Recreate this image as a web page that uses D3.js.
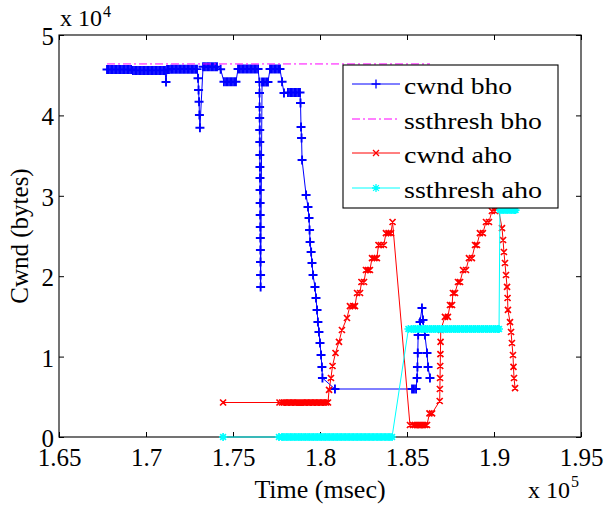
<!DOCTYPE html>
<html>
<head>
<meta charset="utf-8">
<script src="https://cdn.jsdelivr.net/npm/d3@7/dist/d3.min.js"></script>
<style>
  body { margin: 0; background: #fff; }
  svg { display: block; }
  text { font-family: "Liberation Serif", "DejaVu Serif", serif; fill: #000; }
</style>
</head>
<body>
<svg id="chart" width="604" height="506" font-family="Liberation Serif, DejaVu Serif, serif"></svg>
<script>
// ---- axis ticks (time in msec, window in bytes) ----
const xTicks = [165000, 170000, 175000, 180000, 185000, 190000, 195000];
const xTickLabels = ["1.65", "1.7", "1.75", "1.8", "1.85", "1.9", "1.95"];
const yTicks = [0, 10000, 20000, 30000, 40000, 50000];
const yTickLabels = ["0", "1", "2", "3", "4", "5"];
const seriesNames = ["cwnd bho", "ssthresh bho", "cwnd aho", "ssthresh aho"];

// ---- cwnd before handover: [time msec, bytes] ----
const cwndBho = [
  [167760,45700],[167870,45700],[167990,45700],[168100,45700],[168220,45700],[168330,45700],
  [168450,45700],[168560,45700],[168680,45700],[168790,45700],[168910,45700],[169020,45700],
  [169140,45700],[169250,45600],[169370,45600],[169480,45600],[169600,45600],[169710,45600],
  [169830,45600],[169940,45600],[170060,45600],[170170,45600],[170290,45600],[170400,45600],
  [170520,45600],[170630,45600],[170750,45600],[170860,45600],[170980,45600],[171090,45600],
  [171150,44150],[171210,45700],[171320,45700],[171440,45750],[171550,45750],[171670,45750],
  [171780,45750],[171900,45750],[172010,45750],[172130,45750],[172240,45750],[172360,45750],
  [172470,45750],[172590,45750],[172700,45750],[172820,45750],[172930,45750],
  [172990,44620],[173020,43160],[173050,41700],[173070,40050],[173100,38470],
  [173280,46060],[173390,46060],[173510,46060],[173620,46060],[173740,46060],[173850,46060],
  [173970,46060],[174080,46060],[174290,45740],
  [174480,44190],[174600,44190],[174710,44190],[174830,44190],[174940,44190],[175060,44190],[175170,44190],
  [175290,45770],[175400,45770],[175520,45770],[175630,45770],[175750,45770],[175860,45770],
  [175980,45770],[176090,45770],[176210,45770],[176320,45770],[176440,45770],
  [176520,44160],[176524,42790],[176528,41050],[176532,39680],[176536,38190],[176540,36690],
  [176544,35080],[176548,33580],[176552,32210],[176556,30720],[176560,29110],[176564,27610],
  [176568,26120],[176572,24750],[176576,23260],[176580,21770],[176584,20150],[176588,18660],
  [176670,44160],[176780,44160],[176900,44160],[177010,44160],
  [177130,45770],[177240,45770],[177360,45770],[177470,45770],[177590,45770],[177700,45770],
  [177820,44190],[177930,42790],
  [178160,42850],[178280,42850],[178390,42850],[178510,42850],[178620,42850],[178740,42850],[178850,42850],
  [178880,41540],[178910,38560],[178940,37190],[178970,34450],[179200,30100],[179310,28610],
  [179370,27240],[179400,25750],[179430,24250],[179490,23010],[179540,21640],[179600,20150],
  [179710,18660],[179770,17290],[179830,15800],[179880,14300],[179940,13060],[180000,11690],
  [180060,10200],[180110,8710],[180140,7340],[180860,5970],
  [185290,5970],[185400,5970],[185520,5970],
  [185580,7340],[185600,8710],[185620,10450],[185640,12690],[185750,14300],[185860,16050],
  [185920,14550],[186030,12690],[186150,10450],[186210,8710],[186320,7340]
];

// ---- ssthresh before handover ----
const ssthreshBho = [[167760,46400],[186320,46400]];

// ---- cwnd after handover ----
const cwndAho = [
  [174430,4290],
  [177670,4290],[177820,4290],[177930,4290],[178050,4290],[178160,4290],[178280,4290],
  [178390,4290],[178510,4290],[178620,4290],[178740,4290],[178850,4290],[178960,4290],
  [179080,4290],[179190,4290],[179310,4290],[179420,4290],[179540,4290],[179650,4290],
  [179770,4290],[179880,4290],[180000,4290],[180110,4290],[180230,4290],[180340,4290],[180460,4290],
  [180520,5850],[180630,7340],[180720,8830],[180890,10450],[181090,11820],[181260,13310],
  [181550,14800],[181720,16290],[181900,16290],[182010,16290],[182130,17910],[182300,17910],
  [182380,19280],[182530,19280],[182640,20770],[182760,20770],[182870,20770],
  [182990,22260],[183130,22260],[183270,22260],[183360,23880],[183500,23880],[183670,23880],
  [183790,25370],[183940,25370],[184080,25370],[184170,26740],
  [185170,1490],[185340,1490],[185460,1490],[185570,1490],[185690,1490],[185800,1490],
  [185920,1490],[186030,1490],[186150,1490],[186290,2950],[186440,2950],
  [186880,4480],[186890,5970],[186900,7340],[186910,8830],[186920,10320],[186930,11820],[186940,13310],
  [187180,14930],[187350,14930],[187470,16420],[187590,16420],[187640,17910],[187760,17910],
  [187930,19280],[188050,19280],[188220,20770],[188390,20770],[188560,22260],[188730,22260],
  [188910,23880],[189020,23880],[189190,25370],[189360,25370],[189540,26740],[189710,26740],
  [189880,28110],[190060,28110],[190230,28610],
  [190460,25990],[190520,24500],[190570,23010],[190630,21640],[190690,20150],[190750,18660],
  [190780,17290],[190800,15800],[190920,14300],[190980,13060],[191030,11690],[191090,10200],
  [191120,8710],[191150,7340],[191210,6090]
];

// ---- ssthresh after handover ----
const ssthreshAho = [
  [174430,0],[177640,0],
  [177820,0],[177930,0],[178050,0],[178160,0],[178280,0],[178390,0],[178510,0],[178620,0],
  [178740,0],[178850,0],[178960,0],[179080,0],[179190,0],[179310,0],[179420,0],[179540,0],
  [179650,0],[179770,0],[179880,0],[180000,0],[180110,0],[180230,0],[180340,0],[180460,0],
  [180570,0],[180690,0],[180800,0],[180920,0],[181030,0],[181150,0],[181260,0],[181380,0],
  [181490,0],[181610,0],[181720,0],[181840,0],[181950,0],[182070,0],[182180,0],[182300,0],
  [182410,0],[182530,0],[182640,0],[182760,0],[182870,0],[182990,0],[183100,0],[183220,0],
  [183330,0],[183450,0],[183560,0],[183680,0],[183790,0],[183910,0],[184020,0],[184140,0],
  [185080,13430],[185250,13430],[185370,13430],[185480,13430],[185600,13430],[185710,13430],
  [185830,13430],[185940,13430],[186060,13430],[186170,13430],[186290,13430],[186400,13430],
  [186520,13430],[186630,13430],[186750,13430],[186860,13430],[186980,13430],[187090,13430],
  [187210,13430],[187320,13430],[187440,13430],[187550,13430],[187670,13430],[187780,13430],
  [187900,13430],[188010,13430],[188130,13430],[188240,13430],[188360,13430],[188470,13430],
  [188590,13430],[188700,13430],[188820,13430],[188930,13430],[189050,13430],[189160,13430],
  [189280,13430],[189390,13430],[189510,13430],[189620,13430],[189740,13430],[189850,13430],
  [189970,13430],[190080,13430],[190200,13430],[190290,13430],
  [190340,28230],[190460,28230],[190570,28230],[190690,28230],[190800,28230],[190920,28230],
  [191030,28230],[191150,28230],[191240,28230]
];

// ---- layout ----
const plot = { left: 59, right: 581, top: 35, bottom: 437 };
const serif = "Liberation Serif, DejaVu Serif, serif";
const svg = d3.select("#chart");

const x = d3.scaleLinear().domain([165000, 195000]).range([plot.left, plot.right]);
const y = d3.scaleLinear().domain([0, 50000]).range([plot.bottom, plot.top]);

// ---- axes (ticks point inward, box on all sides) ----
const fontTick = 25;
const gx = svg.append("g").attr("transform", `translate(0,${plot.bottom})`)
  .call(d3.axisBottom(x).tickValues(xTicks).tickFormat((d, i) => xTickLabels[i])
    .tickSizeInner(-5).tickSizeOuter(0).tickPadding(11));
const gy = svg.append("g").attr("transform", `translate(${plot.left},0)`)
  .call(d3.axisLeft(y).tickValues(yTicks).tickFormat((d, i) => yTickLabels[i])
    .tickSizeInner(-5).tickSizeOuter(0).tickPadding(5));
const gxTop = svg.append("g").attr("transform", `translate(0,${plot.top})`)
  .call(d3.axisTop(x).tickValues(xTicks).tickFormat("").tickSizeInner(-5).tickSizeOuter(0));
const gyRight = svg.append("g").attr("transform", `translate(${plot.right},0)`)
  .call(d3.axisRight(y).tickValues(yTicks).tickFormat("").tickSizeInner(-5).tickSizeOuter(0));

[gx, gy, gxTop, gyRight].forEach(g => {
  g.attr("font-family", serif);
  g.select(".domain").remove();
  g.selectAll(".tick line").attr("stroke", "#000").attr("stroke-width", 1);
  g.selectAll(".tick text").attr("font-size", fontTick).attr("fill", "#000");
});
gy.selectAll(".tick text").attr("dy", "0.38em");

svg.append("rect")
  .attr("x", plot.left).attr("y", plot.top)
  .attr("width", plot.right - plot.left).attr("height", plot.bottom - plot.top)
  .attr("fill", "none").attr("stroke", "#000").attr("stroke-width", 1.1);

// ---- exponent labels ----
svg.append("text").attr("x", 60).attr("y", 26).attr("font-size", 24).text("x 10");
svg.append("text").attr("x", 103).attr("y", 17).attr("font-size", 16).text("4");
svg.append("text").attr("x", 528).attr("y", 498).attr("font-size", 24).text("x 10");
svg.append("text").attr("x", 571).attr("y", 487).attr("font-size", 16).text("5");

// ---- axis titles ----
svg.append("text").attr("x", (plot.left + plot.right) / 2).attr("y", 498)
  .attr("text-anchor", "middle").attr("font-size", 26).text("Time (msec)");
svg.append("text").attr("transform", `translate(28,${(plot.top + plot.bottom) / 2}) rotate(-90)`)
  .attr("text-anchor", "middle").attr("font-size", 25).text("Cwnd (bytes)");

// ---- marker shapes ----
function plusPath(px, py, s) { return `M${px - s},${py}h${2 * s}M${px},${py - s}v${2 * s}`; }
function crossPath(px, py, s) { return `M${px - s},${py - s}l${2 * s},${2 * s}M${px - s},${py + s}l${2 * s},${-2 * s}`; }
function starPath(px, py, s) { const k = s * 0.72; return plusPath(px, py, s) + crossPath(px, py, k); }

const line = d3.line().x(d => x(d[0])).y(d => y(d[1]));

const series = [
  { data: cwndBho, color: "#0000ff", dash: null, marker: plusPath, size: 4.5, mw: 1.9 },
  { data: ssthreshBho, color: "#ff00ff", dash: "8,3,2,3", marker: null },
  { data: cwndAho, color: "#ff0000", dash: null, marker: crossPath, size: 3, mw: 1.7 },
  { data: ssthreshAho, color: "#00ffff", dash: null, marker: starPath, size: 4, mw: 1.7 }
];

const gData = svg.append("g");
series.forEach(s => {
  gData.append("path").attr("d", line(s.data)).attr("fill", "none")
    .attr("stroke", s.color).attr("stroke-width", 1)
    .attr("stroke-dasharray", s.dash);
  if (s.marker) {
    gData.append("path")
      .attr("d", s.data.map(d => s.marker(x(d[0]), y(d[1]), s.size)).join(""))
      .attr("fill", "none").attr("stroke", s.color).attr("stroke-width", s.mw);
  }
});

// ---- legend ----
const lg = svg.append("g");
lg.append("rect").attr("x", 343).attr("y", 65).attr("width", 215).attr("height", 143)
  .attr("fill", "#fff").attr("stroke", "#000").attr("stroke-width", 1.1);
const rowY = [84, 119, 153, 188];
const textLen = [108, 138, 108, 138];
series.forEach((s, i) => {
  const yy = rowY[i];
  lg.append("line").attr("x1", 352).attr("x2", 400).attr("y1", yy).attr("y2", yy)
    .attr("stroke", s.color).attr("stroke-width", 1).attr("stroke-dasharray", s.dash);
  if (s.marker) {
    lg.append("path").attr("d", s.marker(376, yy, s.size)).attr("fill", "none")
      .attr("stroke", s.color).attr("stroke-width", 1.3);
  }
  lg.append("text").attr("x", 404).attr("y", yy + 10).attr("font-size", 24)
    .attr("textLength", textLen[i]).attr("lengthAdjust", "spacingAndGlyphs")
    .text(seriesNames[i]);
});
</script>
</body>
</html>
